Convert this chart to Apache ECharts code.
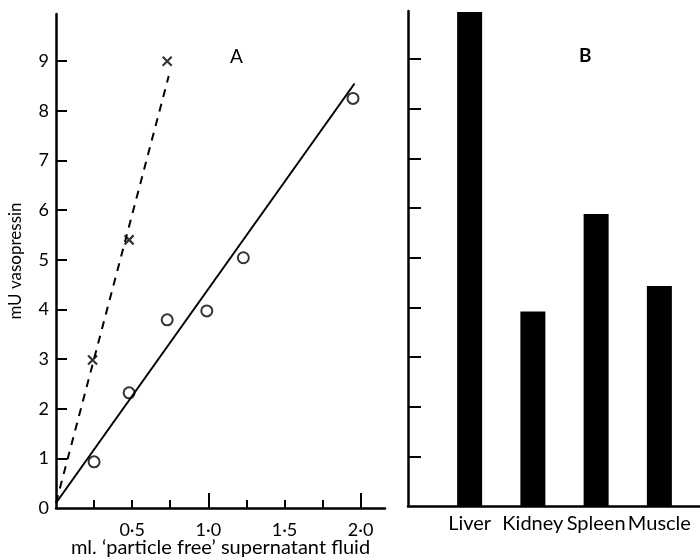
<!DOCTYPE html>
<html>
<head>
<meta charset="utf-8">
<script src="https://cdn.jsdelivr.net/npm/echarts@6/dist/echarts.min.js"></script>
<style>
  html, body { margin: 0; padding: 0; background: #fff; }
  #chart { width: 700px; height: 560px; }
</style>
</head>
<body>
<div id="chart"></div>
<script>
// panel A: open circles and crosses, with the two fitted lines
const circleData = [[0.25, 0.93], [0.48, 2.32], [0.73, 3.79], [0.99, 3.97], [1.23, 5.04], [1.95, 8.25]];
const crossData = [[0.24, 2.98], [0.48, 5.4], [0.73, 9.0]];
const solidFit = [[0, 0.1], [1.96, 8.55]];
const dashedFit = [[0, 0.1], [0.74, 8.7]];

// tick marks and labels
const yTicks = [1, 2, 3, 4, 5, 6, 7, 8, 9];
const yLabels = [0, 1, 2, 3, 4, 5, 6, 7, 8, 9];
const xMinorTicks = [0.25, 0.5, 0.75, 1, 1.25, 1.5, 1.75, 2];
const xMajorTicks = [1, 2];
const xLabels = [0.5, 1, 1.5, 2];

// panel B: bars
const organs = ['Liver', 'Kidney', 'Spleen', 'Muscle'];
const organValues = [9.95, 3.92, 5.88, 4.43];

const myChart = echarts.init(document.getElementById('chart'));
const font = 'Lato';
const ink = '#000';

function dotNum(v) {
  return v.toFixed(1).replace('.', '·');
}

const crossPath = 'path://M0,0L10,10M10,0L0,10';

let options = {
  animation: false,
  backgroundColor: '#fff',
  textStyle: { fontFamily: font, color: ink },
  title: [
    { text: 'A', left: 225, top: 42, textStyle: { fontFamily: font, fontSize: 19, fontWeight: 'normal', color: ink } },
    { text: 'B', left: 574, top: 41, textStyle: { fontFamily: font, fontSize: 19, fontWeight: 'bold', color: ink } }
  ],
  grid: [
    { left: 56, top: 14, width: 329, bottom: 52, outerBoundsMode: 'none', containLabel: false },
    { left: 408, top: 11, right: 0, bottom: 54, outerBoundsMode: 'none', containLabel: false },
    { left: 438, top: 11, right: 9, bottom: 54, outerBoundsMode: 'none', containLabel: false }
  ],
  xAxis: [
    {
      gridIndex: 0, type: 'value', min: 0, max: 2.16, position: 'bottom',
      name: 'ml. ‘particle free’ supernatant fluid',
      nameLocation: 'middle', nameGap: 30, nameMoveOverlap: false,
      nameTextStyle: { fontFamily: font, fontSize: 20, color: ink },
      splitLine: { show: false },
      axisLine: { lineStyle: { color: ink, width: 2.5 } },
      axisTick: { inside: true, length: 8, customValues: xMinorTicks, lineStyle: { color: ink, width: 2 } },
      axisLabel: { fontFamily: font, fontSize: 18, color: ink, margin: 13, customValues: xLabels, formatter: dotNum }
    },
    {
      gridIndex: 0, type: 'value', min: 0, max: 2.16, position: 'bottom',
      splitLine: { show: false },
      axisLine: { show: false },
      axisTick: { inside: true, length: 15, customValues: xMajorTicks, lineStyle: { color: ink, width: 2 } },
      axisLabel: { show: false }
    },
    {
      gridIndex: 1, type: 'value', min: 0, max: 1,
      splitLine: { show: false },
      axisLine: { lineStyle: { color: ink, width: 2.5 } },
      axisTick: { show: false },
      axisLabel: { show: false }
    },
    {
      gridIndex: 2, type: 'category', data: organs,
      axisLine: { show: false },
      axisTick: { show: false },
      axisLabel: { fontFamily: font, fontSize: 20, color: ink, margin: 8, interval: 0 }
    }
  ],
  yAxis: [
    {
      gridIndex: 0, type: 'value', min: 0, max: 9.95,
      name: 'mU vasopressin',
      nameLocation: 'middle', nameGap: 32,
      nameTextStyle: { fontFamily: font, fontSize: 17, color: ink },
      splitLine: { show: false },
      axisLine: { show: true, lineStyle: { color: ink, width: 2.5 } },
      axisTick: { inside: true, length: 11, customValues: yTicks, lineStyle: { color: ink, width: 2 } },
      axisLabel: { fontFamily: font, fontSize: 18, color: ink, margin: 7, customValues: yLabels }
    },
    {
      gridIndex: 1, type: 'value', min: 0, max: 9.97,
      splitLine: { show: false },
      axisLine: { show: true, lineStyle: { color: ink, width: 2.5 } },
      axisTick: { inside: true, length: 13, customValues: yTicks, lineStyle: { color: ink, width: 2 } },
      axisLabel: { show: false }
    },
    {
      gridIndex: 2, type: 'value', min: 0, max: 9.97, show: false
    }
  ],
  series: [
    {
      name: 'fit solid', type: 'line', xAxisIndex: 0, yAxisIndex: 0,
      data: solidFit, showSymbol: false, symbol: 'none',
      lineStyle: { color: ink, width: 2 }
    },
    {
      name: 'fit dashed', type: 'line', xAxisIndex: 0, yAxisIndex: 0,
      data: dashedFit, showSymbol: false, symbol: 'none',
      lineStyle: { color: ink, width: 2, type: [8, 7] }
    },
    {
      name: 'circles', type: 'scatter', xAxisIndex: 0, yAxisIndex: 0,
      data: circleData, symbol: 'circle', symbolSize: 11,
      itemStyle: { color: '#fff', borderColor: ink, borderWidth: 2 }
    },
    {
      name: 'crosses', type: 'scatter', xAxisIndex: 0, yAxisIndex: 0,
      data: crossData, symbol: crossPath, symbolSize: 9,
      itemStyle: { color: 'none', borderColor: ink, borderWidth: 2.2 }
    },
    {
      name: 'organs', type: 'bar', xAxisIndex: 3, yAxisIndex: 2,
      data: organValues, barWidth: 25,
      itemStyle: { color: ink }
    }
  ]
};

myChart.setOption(options);
</script>
</body>
</html>
